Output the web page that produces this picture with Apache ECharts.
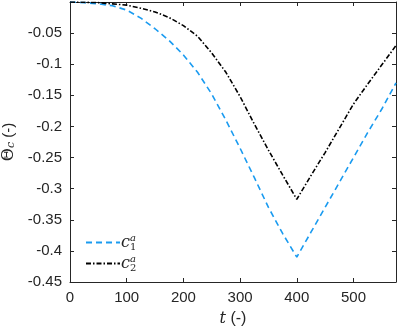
<!DOCTYPE html>
<html>
<head>
<meta charset="utf-8">
<script src="https://cdn.jsdelivr.net/npm/echarts@6/dist/echarts.min.js"></script>
<style>
  html, body { margin: 0; padding: 0; background: #fff; }
  #chart { width: 399px; height: 331px; }
</style>
</head>
<body>
<div id="chart"></div>
<script>
    // time values t (-)
    var tValues = [0, 25, 50, 75, 100, 125, 150, 175, 200, 225, 250, 275, 300, 325, 350, 375, 400, 425, 450, 475, 500, 525, 550, 575];
    // c1^a curve
    var c1Values = [0, -0.001, -0.003, -0.006, -0.013, -0.026, -0.043, -0.062, -0.085, -0.113, -0.148, -0.19, -0.235, -0.282, -0.33, -0.372, -0.41, -0.37, -0.33, -0.29, -0.25, -0.21, -0.172, -0.13];
    // c2^a curve
    var c2Values = [0, -0.0005, -0.001, -0.003, -0.005, -0.01, -0.016, -0.025, -0.038, -0.055, -0.082, -0.113, -0.152, -0.196, -0.238, -0.278, -0.317, -0.279, -0.242, -0.203, -0.164, -0.132, -0.101, -0.07];
    var seriesNames = ['c1', 'c2'];

    //把x和y拼成点对
    function toPairs(xs, ys){
        var ret = [];
        xs.forEach(function(x, i){
            ret.push([x, ys[i]]);
        });
        return ret;
    }

    var font = 'Liberation Sans';
    var axisColor = '#262626';
    var chart = echarts.init(document.getElementById('chart'));

    //公共的坐标轴样式
    function boxAxis(extra){
        var base = {
            axisLine: { show: true, onZero: false, lineStyle: { color: axisColor, width: 1 } },
            axisTick: { show: true, inside: true, length: 4, lineStyle: { color: axisColor } },
            splitLine: { show: false },
            axisLabel: { show: false }
        };
        return Object.assign(base, extra);
    }

    var legendRich = {
        c: { fontFamily: 'DejaVu Serif', fontStyle: 'italic', fontSize: 16, color: '#222' },
        a: { fontFamily: 'DejaVu Serif', fontStyle: 'italic', fontSize: 10, color: '#222', width: 0, verticalAlign: 'top', padding: [0, 0, 9, 0] },
        n: { fontFamily: 'DejaVu Serif', fontSize: 10, color: '#222', verticalAlign: 'bottom', padding: [9, 0, 0, 0] }
    };

    chart.setOption({
        animation: false,
        grid: { left: 70, right: 3, top: 2, bottom: 49, outerBoundsMode: 'none', containLabel: false },
        legend: {
            orient: 'vertical',
            left: 80,
            top: 228,
            itemWidth: 34,
            itemHeight: 10,
            itemGap: 2,
            data: seriesNames,
            itemStyle: { opacity: 0 },
            formatter: function(name){
                return name === 'c1' ? '{c|c}{a|a}{n|1}' : '{c|c}{a|a}{n|2}';
            },
            textStyle: { rich: legendRich, padding: [0, 0, 0, -4] }
        },
        xAxis: [
            boxAxis({
                type: 'value', min: 0, max: 575, interval: 100, position: 'bottom',
                axisLabel: { show: true, showMaxLabel: false, color: '#262626', fontFamily: font, fontSize: 15, margin: 8 },
                name: '{i|t} (-)', nameLocation: 'middle', nameGap: 29,
                nameTextStyle: { color: '#262626', fontFamily: font, fontSize: 16,
                    rich: { i: { fontFamily: 'DejaVu Serif', fontStyle: 'italic', fontSize: 16, color: '#262626' } } }
            }),
            boxAxis({ type: 'value', min: 0, max: 575, interval: 100, position: 'top' })
        ],
        yAxis: [
            boxAxis({
                type: 'value', min: -0.45, max: 0, interval: 0.05, position: 'left',
                axisLabel: { show: true, showMaxLabel: false, color: '#262626', fontFamily: font, fontSize: 15, margin: 8 },
                name: '{t|\u0398}{s|c} (-)', nameLocation: 'middle', nameGap: 46, nameRotate: 90,
                nameTextStyle: { color: '#262626', fontFamily: font, fontSize: 15,
                    rich: {
                        t: { fontFamily: 'DejaVu Serif', fontSize: 16, color: '#262626' },
                        s: { fontFamily: 'DejaVu Serif', fontStyle: 'italic', fontSize: 11, color: '#262626', verticalAlign: 'bottom', padding: [6, 0, 0, 0] }
                    } }
            }),
            boxAxis({ type: 'value', min: -0.45, max: 0, interval: 0.05, position: 'right' })
        ],
        series: [{
            name: 'c1',
            type: 'line',
            data: toPairs(tValues, c1Values),
            symbol: 'none',
            lineStyle: { color: '#1a9bf0', width: 1.6, type: [6, 4] },
            itemStyle: { color: '#1a9bf0' }
        }, {
            name: 'c2',
            type: 'line',
            data: toPairs(tValues, c2Values),
            symbol: 'none',
            lineStyle: { color: '#000', width: 1.6, type: [5, 2, 1.5, 2] },
            itemStyle: { color: '#000' }
        }]
    });
</script>
</body>
</html>
